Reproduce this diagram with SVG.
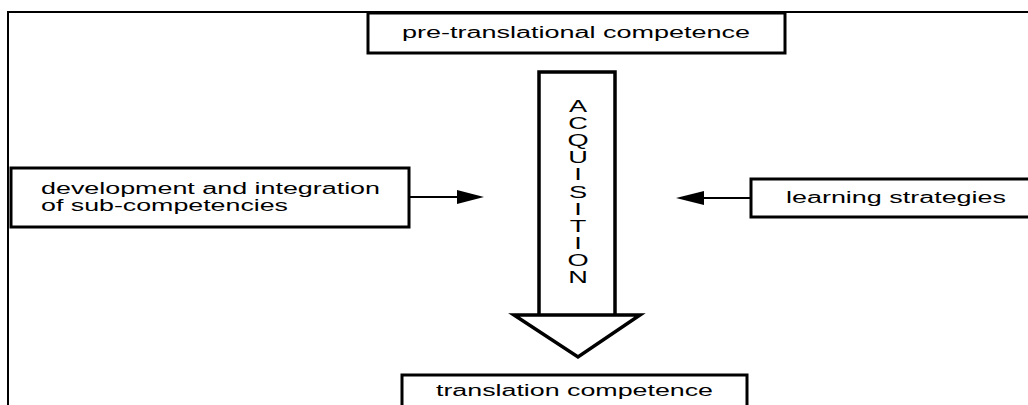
<svg xmlns="http://www.w3.org/2000/svg" width="1028" height="405" viewBox="0 0 1028 405">
<style>
.box{fill:#fff;stroke:#000;stroke-width:3}
.frame{fill:none;stroke:#000;stroke-width:2}
.lbl{font-family:"Liberation Sans",Arial,sans-serif;font-size:16px;fill:#000}
.conn{stroke:#000;stroke-width:2;fill:none}
.head{fill:#000;stroke:none}
.big{fill:#fff;stroke:#000;stroke-width:3.5;stroke-linejoin:miter}
</style>
<rect width="1028" height="405" fill="#fff"/>
<path class="frame" d="M8,405 V12 H1028"/>
<g id="acquisition-arrow">
<path class="big" d="M539,316 V72 H615 V316"/>
<polygon class="big" points="514,315 640,315 578,357"/>
<text class="lbl" transform="translate(578,0) scale(1.7,1)" text-anchor="middle">
<tspan x="0" y="112">A</tspan><tspan x="0" y="129">C</tspan><tspan x="0" y="146">Q</tspan><tspan x="0" y="163">U</tspan><tspan x="0" y="180">I</tspan><tspan x="0" y="198">S</tspan><tspan x="0" y="215">I</tspan><tspan x="0" y="232">T</tspan><tspan x="0" y="249">I</tspan><tspan x="0" y="266">O</tspan><tspan x="0" y="283">N</tspan>
</text>
</g>
<g id="pre-translational">
<rect class="box" x="368" y="13" width="417" height="40"/>
<text class="lbl" x="402" y="38" textLength="348" lengthAdjust="spacingAndGlyphs">pre-translational competence</text>
</g>
<g id="development">
<rect class="box" x="11" y="168" width="398" height="59"/>
<text class="lbl" x="41" y="194" textLength="339" lengthAdjust="spacingAndGlyphs">development and integration</text>
<text class="lbl" x="41" y="211" textLength="247" lengthAdjust="spacingAndGlyphs">of sub-competencies</text>
</g>
<g id="learning">
<rect class="box" x="751" y="179" width="290" height="38"/>
<text class="lbl" x="786" y="203" textLength="220" lengthAdjust="spacingAndGlyphs">learning strategies</text>
</g>
<g id="translation">
<rect class="box" x="402" y="375" width="345" height="40"/>
<text class="lbl" x="436" y="396" textLength="277" lengthAdjust="spacingAndGlyphs">translation competence</text>
</g>
<g id="connectors">
<line class="conn" x1="410" y1="197" x2="460" y2="197"/>
<polygon class="head" points="457,190 484,197 457,204"/>
<line class="conn" x1="750" y1="198" x2="700" y2="198"/>
<polygon class="head" points="704,191 676,198 704,205"/>
</g>
</svg>
